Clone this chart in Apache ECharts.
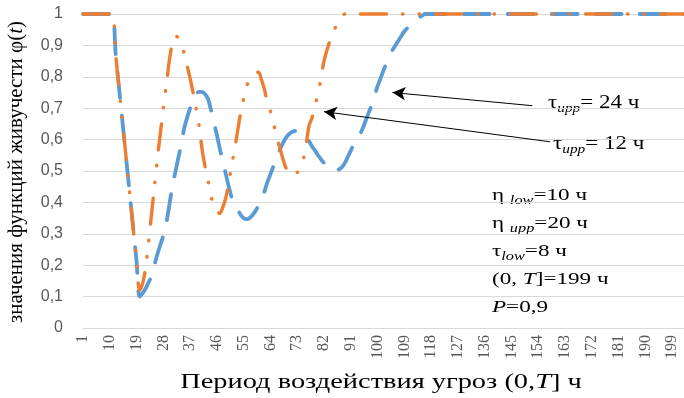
<!DOCTYPE html>
<html>
<head>
<meta charset="utf-8">
<script src="https://cdn.jsdelivr.net/npm/echarts@6/dist/echarts.min.js"></script>
<style>
html,body{margin:0;padding:0;background:#fff;}
#c{width:684px;height:398px;}
</style>
</head>
<body>
<div id="c"></div>
<script>
// Period of threat exposure, hours (category axis 1..203, labels every 9)
const T_FIRST = 1;
const T_LAST = 203;
const categories = [];
for (let t = T_FIRST; t <= T_LAST; t++) categories.push(String(t));

// τupp = 24 h (blue, long dash)
const phiTau24 = [
  1,1,1,1,1,1,1,1,1,1,1,
  0.87,0.776,0.682,0.588,0.494,0.40,0.306,0.212,0.10,
  0.11,0.125,0.145,0.165,0.20,0.235,0.265,0.295,0.335,0.39,
  0.45,0.495,0.54,0.585,0.635,0.67,0.70,0.727,0.745,0.752,
  0.752,0.745,0.73,0.695,0.655,0.615,0.57,0.53,0.49,0.45,
  0.415,0.398,0.378,0.36,0.35,0.347,0.35,0.36,0.373,0.39,
  0.408,0.435,0.465,0.49,0.515,0.54,0.565,0.585,0.603,0.615,
  0.623,0.627,0.628,0.625,0.618,0.608,0.595,0.578,0.565,0.55,
  0.537,0.525,0.515,0.508,0.504,0.502,0.505,0.512,0.525,0.545,
  0.565,0.585,0.60,0.615,0.635,0.66,0.685,0.71,0.74,0.77,
  0.795,0.82,0.845,0.865,0.885,0.90,0.915,0.93,0.945,0.955,
  0.965,0.975,0.983,0.99,0.995,1,1,1,1,1,
  1,1,1,1,1,1,1,1,1,1,
  1,1,1,1,1,1,1,1,1,1,
  1,1,1,1,1,1,1,1,1,1,
  1,1,1,1,1,1,1,1,1,1,
  1,1,1,1,1,1,1,1,1,1,
  1,1,1,1,1,1,1,1,1,1,
  1,1,1,1,1,1,1,1,1,1,
  1,1,1,1,1,1,1,1,1,1,
  1,1,1
];

// τupp = 12 h (orange, long dash dot dot)
const phiTau12 = [
  1,1,1,1,1,1,1,1,1,1,1,
  0.87,0.776,0.682,0.588,0.494,0.40,0.306,0.215,0.12,
  0.14,0.19,0.27,0.36,0.45,0.54,0.62,0.70,0.775,0.85,
  0.905,0.93,0.925,0.905,0.875,0.835,0.795,0.75,0.70,0.645,
  0.57,0.515,0.47,0.42,0.39,0.37,0.365,0.385,0.415,0.465,
  0.52,0.57,0.63,0.685,0.73,0.77,0.79,0.805,0.812,0.815,
  0.79,0.76,0.715,0.69,0.655,0.61,0.58,0.545,0.515,0.495,
  0.487,0.487,0.495,0.51,0.535,0.585,0.645,0.67,0.71,0.745,
  0.795,0.85,0.885,0.915,0.94,0.96,0.975,0.99,1,1,
  1,1,1,1,1,1,1,1,1,1,
  1,1,1,1,1,1,1,1,1,1,
  1,1,1,1,1,1,1,1,1,1,
  1,1,1,1,1,1,1,1,1,1,
  1,1,1,1,1,1,1,1,1,1,
  1,1,1,1,1,1,1,1,1,1,
  1,1,1,1,1,1,1,1,1,1,
  1,1,1,1,1,1,1,1,1,1,
  1,1,1,1,1,1,1,1,1,1,
  1,1,1,1,1,1,1,1,1,1,
  1,1,1,1,1,1,1,1,1,1,
  1,1,1
];

// Arrow anchors [category index, value]
const arrow24 = [[151, 0.708], [104, 0.75]];
const arrow12 = [[157, 0.593], [81, 0.689]];

const SERIF = '"Liberation Serif","DejaVu Serif",serif';
const SANS = '"Liberation Sans",Arial,sans-serif';

const chart = echarts.init(document.getElementById('c'), null, {renderer: 'canvas'});

function richSet(size) {
  return {
    m: {fontFamily: SERIF, fontSize: size, color: '#000', lineHeight: size + 5},
    s: {fontFamily: SERIF, fontSize: Math.round(size * 0.68), fontStyle: 'italic', color: '#000', lineHeight: Math.round(size * 0.62), verticalAlign: 'bottom'},
    i: {fontFamily: SERIF, fontSize: size, fontStyle: 'italic', color: '#000', lineHeight: size + 5}
  };
}

function txt(x, y, text, size, sx, align, rot) {
  return {
    type: 'text', x: x, y: y, scaleX: sx, rotation: rot || 0, silent: true,
    style: {text: text, rich: richSet(size), fill: '#000', align: align || 'left', verticalAlign: 'middle'}
  };
}

const option = {
  backgroundColor: '#fff',
  animation: false,
  grid: {left: 83, right: 0, top: 14, bottom: 70, containLabel: false},
  xAxis: {
    type: 'category',
    data: categories,
    boundaryGap: false,
    axisLine: {show: true, lineStyle: {color: '#d9d9d9', width: 1}},
    axisTick: {show: false},
    axisLabel: {
      interval: 8, rotate: 90, margin: 7,
      fontFamily: SERIF, fontSize: 16, color: '#595959'
    },
    splitLine: {show: false}
  },
  yAxis: {
    type: 'value', min: 0, max: 1, interval: 0.1,
    axisLine: {show: false}, axisTick: {show: false},
    axisLabel: {
      margin: 20, fontFamily: SANS, fontSize: 16, color: '#595959',
      formatter: function (v) {
        if (Math.abs(v) < 1e-9) return '0';
        if (Math.abs(v - 1) < 1e-9) return '1';
        return v.toFixed(1).replace('.', ',');
      }
    },
    splitLine: {lineStyle: {color: '#d9d9d9', width: 1.2}}
  },
  series: [
    {
      name: 'τupp = 24 ч', type: 'line', data: phiTau24,
      showSymbol: false, smooth: 0.3, clip: false,
      lineStyle: {color: '#5B9BD5', width: 3.8, type: [26, 18], cap: 'round', join: 'round'},
      emphasis: {disabled: true}
    },
    {
      name: 'τupp = 12 ч', type: 'line', data: phiTau12,
      showSymbol: false, smooth: 0.3, clip: false,
      lineStyle: {color: '#ED7D31', width: 3.4, type: [26, 16, 0.5, 16, 0.5, 16], cap: 'round', join: 'round'},
      emphasis: {disabled: true},
      markLine: {
        silent: true,
        animation: false,
        symbol: ['none', 'arrow'],
        symbolSize: [10, 13],
        label: {show: false},
        lineStyle: {color: '#000', width: 1, type: 'solid'},
        emphasis: {disabled: true},
        data: [
          [{coord: arrow24[0]}, {coord: arrow24[1]}],
          [{coord: arrow12[0]}, {coord: arrow12[1]}]
        ]
      }
    }
  ],
  graphic: [
    // axis titles
    txt(381, 383, '{m|Период воздействия угроз (0,}{i|T}{m|] ч}', 20, 1.42, 'center'),
    txt(16, 172, '{m|значения функций живучести φ(}{i|t}{m|)}', 21, 1, 'center', Math.PI / 2),
    // curve labels
    txt(548, 103, '{m|τ}{s|upp}{m|= 24 ч}', 18, 1.28),
    txt(553, 144, '{m|τ}{s|upp}{m|= 12 ч}', 18, 1.28),
    // parameters
    txt(492, 196, '{m|η }{s|low}{m|=10 ч}', 17, 1.36),
    txt(492, 224, '{m|η }{s|upp}{m|=20 ч}', 17, 1.36),
    txt(492, 252, '{m|τ}{s|low}{m|=8 ч}', 17, 1.36),
    txt(492, 280, '{m|(0, }{i|T}{m|]=199 ч}', 17, 1.36),
    txt(492, 308, '{i|P}{m|=0,9}', 17, 1.36)
  ]
};
chart.setOption(option);
</script>
</body>
</html>
